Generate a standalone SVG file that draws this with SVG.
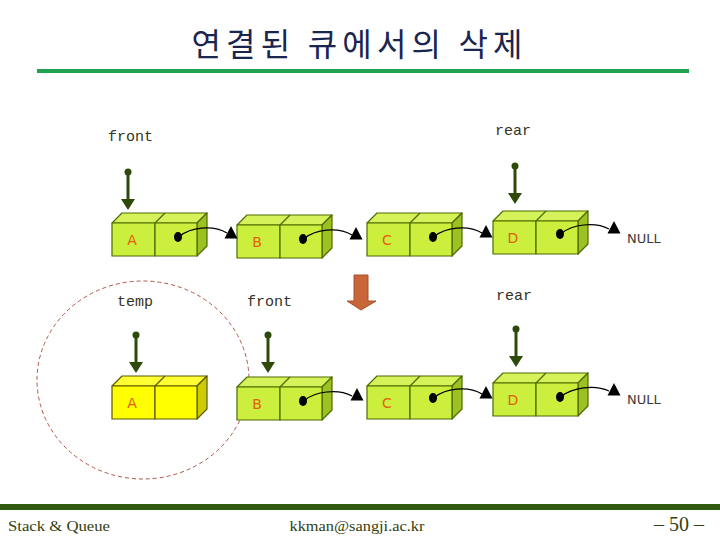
<svg xmlns="http://www.w3.org/2000/svg" xmlns:xlink="http://www.w3.org/1999/xlink" width="720" height="540" viewBox="0 0 720 540">
<style>
.lbl{font-family:"Liberation Mono","DejaVu Sans Mono",monospace;font-size:15px;fill:#333322}
.let{font-family:"DejaVu Sans","Liberation Sans",sans-serif;font-size:14px;fill:#E0600A;text-anchor:middle}
.null{font-family:"DejaVu Sans","Liberation Sans",sans-serif;font-size:13px;fill:#3A3A3A}
.dot{fill:#000}
.curve{fill:none;stroke:#000;stroke-width:1.2}
.ptr{stroke:#2D4A0A;stroke-width:3;fill:none}
.ptrh{fill:#2D4A0A}
.foot{font-family:"Liberation Serif","DejaVu Serif",serif;fill:#334010}
</style>
<defs>
<g id="gnode" stroke="#4D6B00" stroke-width="1.2" stroke-linejoin="round">
<polygon points="0,0 10,-10 95,-10 85,0" fill="#D6F25A"/>
<line x1="43" y1="0" x2="53" y2="-10"/>
<polygon points="85,0 95,-10 95,23 85,33" fill="#9DC022"/>
<rect x="0" y="0" width="43" height="33" fill="#CCEE3C"/>
<rect x="43" y="0" width="42" height="33" fill="#CCEE3C"/>
</g>
<g id="ynode" stroke="#5A5A00" stroke-width="1.2" stroke-linejoin="round">
<polygon points="0,0 10,-10 95,-10 85,0" fill="#FFFF33"/>
<line x1="43" y1="0" x2="53" y2="-10"/>
<polygon points="85,0 95,-10 95,23 85,33" fill="#CCCC00"/>
<rect x="0" y="0" width="43" height="33" fill="#FFFF00"/>
<rect x="43" y="0" width="42" height="33" fill="#FFFF00"/>
</g>
<path id="tri" d="M0,-7 L6.5,5.5 L-6.5,5.5 Z" fill="#000"/>
<g id="pdown">
<circle cx="0" cy="0" r="3.5" class="ptrh"/>
<line x1="0" y1="0" x2="0" y2="28" class="ptr"/>
<polygon points="-7,27 7,27 0,38" class="ptrh"/>
</g>
</defs>

<rect width="720" height="540" fill="#fff"/>

<g id="title">
<text x="357" y="56" font-family="Noto Sans CJK KR, sans-serif" font-size="32" fill="#1A2550" text-anchor="middle" textLength="331" lengthAdjust="spacing">연결된 큐에서의 삭제</text>
<rect x="37" y="69" width="652" height="4" fill="#22A050"/>
</g>

<!-- top row -->
<g id="nodeA1"><use xlink:href="#gnode" x="112" y="223"/><text class="let" x="132" y="245">A</text><ellipse class="dot" cx="178" cy="237" rx="4" ry="5"/></g>
<g id="nodeB1"><use xlink:href="#gnode" x="237" y="225"/><text class="let" x="257" y="247">B</text><ellipse class="dot" cx="303" cy="239" rx="4" ry="5"/></g>
<g id="nodeC1"><use xlink:href="#gnode" x="367" y="223"/><text class="let" x="387" y="245">C</text><ellipse class="dot" cx="433" cy="237" rx="4" ry="5"/></g>
<g id="nodeD1"><use xlink:href="#gnode" x="493" y="221"/><text class="let" x="513" y="243">D</text><ellipse class="dot" cx="560" cy="234" rx="4" ry="5"/></g>
<g id="null1"><text class="null" x="627" y="243">NULL</text></g>
<g id="front1"><text class="lbl" x="108" y="141">front</text><use xlink:href="#pdown" x="128" y="172"/></g>
<g id="rear1"><text class="lbl" x="495" y="135">rear</text><use xlink:href="#pdown" x="515" y="166"/></g>

<!-- bottom row -->
<g id="circle"><ellipse cx="143" cy="380" rx="106" ry="99" fill="none" stroke="#B05545" stroke-width="1" stroke-dasharray="4,3"/></g>
<g id="nodeA2"><use xlink:href="#ynode" x="112" y="386"/><text class="let" x="132" y="408">A</text></g>
<g id="nodeB2"><use xlink:href="#gnode" x="237" y="387"/><text class="let" x="257" y="409">B</text><ellipse class="dot" cx="303" cy="401" rx="4" ry="5"/></g>
<g id="nodeC2"><use xlink:href="#gnode" x="367" y="386"/><text class="let" x="387" y="408">C</text><ellipse class="dot" cx="433" cy="398" rx="4" ry="5"/></g>
<g id="nodeD2"><use xlink:href="#gnode" x="493" y="383"/><text class="let" x="513" y="405">D</text><ellipse class="dot" cx="560" cy="397" rx="4" ry="5"/></g>
<g id="null2"><text class="null" x="627" y="404">NULL</text></g>
<g id="temp"><text class="lbl" x="117" y="306">temp</text><use xlink:href="#pdown" x="136" y="335"/></g>
<g id="front2"><text class="lbl" x="247" y="306">front</text><use xlink:href="#pdown" x="268" y="335"/></g>
<g id="rear2"><text class="lbl" x="496" y="300">rear</text><use xlink:href="#pdown" x="516" y="329"/></g>

<g id="bigarrow"><polygon points="354,275 368,275 368,301 376,301 361,310 347,301 354,301" fill="#C8663A" stroke="#A8502A" stroke-width="1"/></g>

<g id="connectors">
<path class="curve" d="M180,236 C190,228 212,224 227,233"/><use xlink:href="#tri" x="231" y="233"/>
<path class="curve" d="M305,238 C315,230 337,226 352,235"/><use xlink:href="#tri" x="356" y="234"/>
<path class="curve" d="M435,236 C445,228 467,224 482,233"/><use xlink:href="#tri" x="486" y="232"/>
<path class="curve" d="M562,233 C572,225 594,221 609,229"/><use xlink:href="#tri" x="614" y="228"/>
<path class="curve" d="M305,400 C315,392 337,388 352,396"/><use xlink:href="#tri" x="357" y="395"/>
<path class="curve" d="M435,397 C445,389 467,385 482,394"/><use xlink:href="#tri" x="486" y="393"/>
<path class="curve" d="M562,396 C572,388 594,384 609,391"/><use xlink:href="#tri" x="614" y="390"/>
</g>

<g id="footer">
<rect x="0" y="504" width="720" height="6" fill="#2F5A0F"/>
<text class="foot" x="8" y="531" font-size="15" textLength="102" lengthAdjust="spacingAndGlyphs">Stack &amp; Queue</text>
<text class="foot" x="357" y="531" font-size="15" text-anchor="middle" textLength="135" lengthAdjust="spacingAndGlyphs">kkman@sangji.ac.kr</text>
<text class="foot" x="679" y="531" font-size="20" text-anchor="middle">– 50 –</text>
</g>
</svg>
